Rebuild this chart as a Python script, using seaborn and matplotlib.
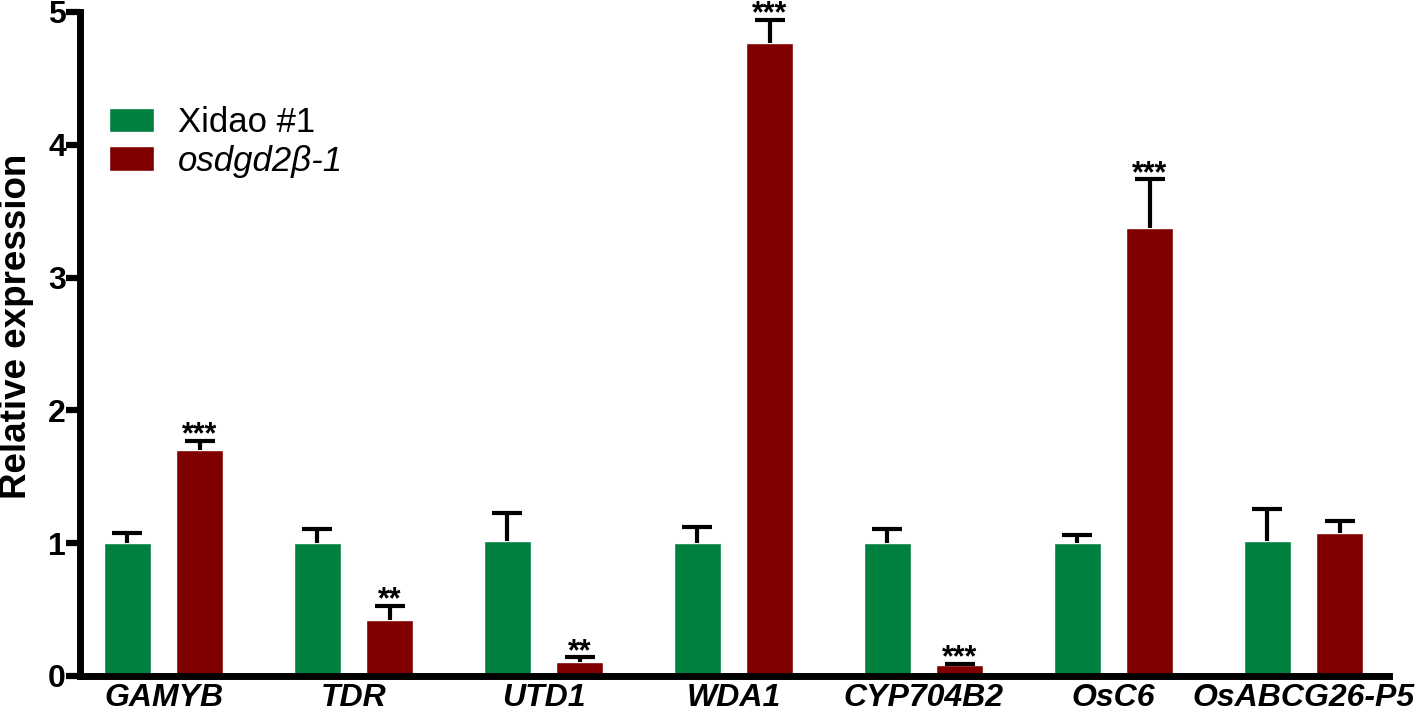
import numpy as np
import pandas as pd
import matplotlib
matplotlib.use('Agg')
import matplotlib.pyplot as plt
import seaborn as sns

genes = ['GAMYB', 'TDR', 'UTD1', 'WDA1', 'CYP704B2', 'OsC6', 'OsABCG26-P5']
lines = ['Xidao #1', 'osdgd2β-1']
wt_mean = [1.00, 1.00, 1.015, 1.00, 1.00, 1.00, 1.015]
wt_err = [0.08, 0.11, 0.215, 0.12, 0.11, 0.06, 0.24]
mut_mean = [1.70, 0.42, 0.105, 4.77, 0.08, 3.37, 1.075]
mut_err = [0.07, 0.11, 0.035, 0.17, 0.012, 0.37, 0.09]
stars = ['***', '**', '**', '***', '***', '***', '']

COLORS = {'Xidao #1': '#00803F', 'osdgd2β-1': '#800000'}

sns.set_theme(style='ticks')
plt.rcParams['font.family'] = ['Liberation Sans', 'DejaVu Sans']
plt.rcParams['axes.edgecolor'] = 'black'
plt.rcParams['xtick.color'] = 'black'
plt.rcParams['ytick.color'] = 'black'
plt.rcParams['text.color'] = 'black'
plt.rcParams['axes.labelcolor'] = 'black'

df = pd.DataFrame({
    'gene': genes * 2,
    'line': [lines[0]] * len(genes) + [lines[1]] * len(genes),
    'value': wt_mean + mut_mean,
})
errs = [wt_err, mut_err]

fig = plt.figure(figsize=(14.18, 7.12), dpi=100)
ax = fig.add_axes([0.0564, 0.0506, 0.9231, 0.9326])

sns.barplot(data=df, x='gene', y='value', hue='line', palette=COLORS,
            width=0.76, gap=0.34, saturation=1, errorbar=None, ax=ax)

# upper-only error bars + significance stars
bar_conts = list(ax.containers)
for i, cont in enumerate(bar_conts):
    xs = np.array([b.get_x() + b.get_width() / 2 for b in cont])
    ys = np.array([b.get_height() for b in cont])
    e = np.array(errs[i])
    ax.vlines(xs, ys, ys + e, color='black', linewidth=3, zorder=5)
    ax.plot(xs, ys + e, linestyle='none', marker='_', markersize=21,
            markeredgewidth=3, color='black', zorder=5)
    if i == 1:
        for x, top, s in zip(xs, ys + e, stars):
            if s:
                ax.annotate(s, (x, top), xytext=(0, -2), textcoords='offset points',
                            ha='center', va='baseline', fontsize=22, fontweight='bold',
                            annotation_clip=False)

ax.set_xlim(-0.44, 6.45)
ax.set_ylim(0, 5)
ax.set_yticks([0, 1, 2, 3, 4, 5])
ax.set_xlabel('')
ax.set_ylabel('Relative expression', fontsize=26.5, fontweight='bold')
ax.yaxis.set_label_coords(-0.0355, 0.527)

for sp in ['top', 'right']:
    ax.spines[sp].set_visible(False)
for sp in ['left', 'bottom']:
    ax.spines[sp].set_linewidth(5)
ax.tick_params(axis='y', length=10, width=4.5, labelsize=23, pad=0)
ax.tick_params(axis='x', length=0, labelsize=23, pad=5)
for t in ax.get_yticklabels():
    t.set_fontweight('bold')
for t in ax.get_xticklabels():
    t.set_fontweight('bold')
    t.set_fontstyle('italic')

handles, labels = ax.get_legend_handles_labels()
ax.get_legend().remove()
leg = fig.legend(handles, labels, loc='upper left', bbox_to_anchor=(0.0645, 0.875),
                 frameon=False, fontsize=25, handlelength=1.3, handleheight=0.7,
                 handletextpad=0.7, labelspacing=0.15, borderpad=0)
leg.get_texts()[1].set_fontstyle('italic')

fig.savefig('out.png', dpi=100)
